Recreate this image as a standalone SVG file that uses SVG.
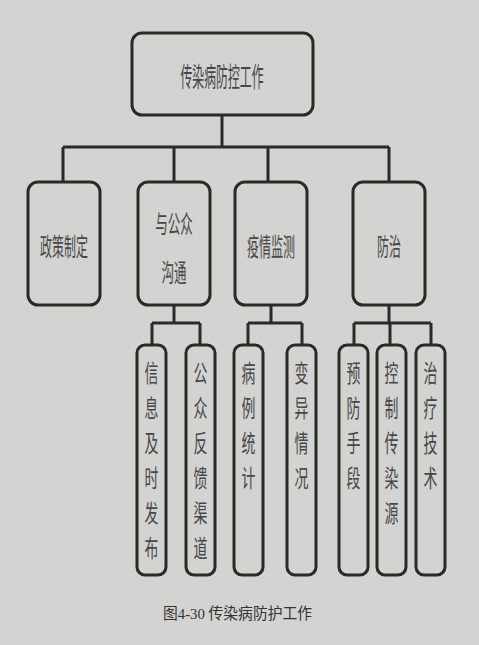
<svg xmlns="http://www.w3.org/2000/svg" width="479" height="645" viewBox="0 0 479 645">
<style>
.bx{fill:#d3d3d1;stroke:#2a2a26;stroke-width:3}
.ln{fill:none;stroke:#2a2a26;stroke-width:3}
.t{font-family:"Noto Sans CJK SC","Noto Sans",sans-serif;fill:#474747;text-anchor:middle}
.lf{font-size:24px}
.cap{font-family:"Liberation Serif","Noto Sans CJK SC",serif;fill:#333;font-size:15.5px}
</style>
<rect width="479" height="645" fill="#d3d3d1"/>
<g id="connectors">
<path class="ln" d="M222,115 V147 M63,147 H389 M63,147 V182 M174,147 V182 M268,147 V182 M389,147 V182"/>
<path class="ln" d="M174,305 V323 M152,323 H200 M152,323 V345 M200,323 V345"/>
<path class="ln" d="M271,305 V323 M248,323 H302 M248,323 V345 M302,323 V345"/>
<path class="ln" d="M389,305 V323 M354,323 H431 M354,323 V345 M431,323 V345 M390,323 V345"/>
</g>
<g id="root">
<rect class="bx" x="132" y="33" width="181" height="82" rx="10"/>
<text class="t" font-size="27" transform="matrix(0.44 0 0 1 222 0)" x="0" y="87">传染病防控工作</text>
</g>
<g id="n-policy">
<rect class="bx" x="28" y="182" width="72" height="123" rx="10"/>
<text class="t" font-size="25" transform="matrix(0.48 0 0 1 64 0)" x="0" y="256">政策制定</text>
</g>
<g id="n-comm">
<rect class="bx" x="138" y="182" width="72" height="123" rx="10"/>
<text class="t" font-size="25" transform="matrix(0.5 0 0 1 174 0)"><tspan x="0" y="233">与公众</tspan><tspan x="0" y="282">沟通</tspan></text>
</g>
<g id="n-monitor">
<rect class="bx" x="235" y="182" width="72" height="123" rx="10"/>
<text class="t" font-size="25" transform="matrix(0.48 0 0 1 271 0)" x="0" y="256">疫情监测</text>
</g>
<g id="n-prevent">
<rect class="bx" x="353" y="182" width="72" height="123" rx="10"/>
<text class="t" font-size="25" transform="matrix(0.48 0 0 1 389 0)" x="0" y="256">防治</text>
</g>
<g id="l-release">
<rect class="bx" x="137" y="345" width="29" height="230" rx="8"/>
<text class="t lf" transform="matrix(0.58 0 0 1 151.5 0)"><tspan x="0" y="382">信</tspan><tspan x="0" y="417">息</tspan><tspan x="0" y="452">及</tspan><tspan x="0" y="487">时</tspan><tspan x="0" y="522">发</tspan><tspan x="0" y="557">布</tspan></text>
</g>
<g id="l-feedback">
<rect class="bx" x="186" y="345" width="29" height="230" rx="8"/>
<text class="t lf" transform="matrix(0.58 0 0 1 200.5 0)"><tspan x="0" y="382">公</tspan><tspan x="0" y="417">众</tspan><tspan x="0" y="452">反</tspan><tspan x="0" y="487">馈</tspan><tspan x="0" y="522">渠</tspan><tspan x="0" y="557">道</tspan></text>
</g>
<g id="l-cases">
<rect class="bx" x="234" y="345" width="29" height="230" rx="8"/>
<text class="t lf" transform="matrix(0.58 0 0 1 248.5 0)"><tspan x="0" y="382">病</tspan><tspan x="0" y="417">例</tspan><tspan x="0" y="452">统</tspan><tspan x="0" y="487">计</tspan></text>
</g>
<g id="l-variant">
<rect class="bx" x="287" y="345" width="29" height="230" rx="8"/>
<text class="t lf" transform="matrix(0.58 0 0 1 301.5 0)"><tspan x="0" y="382">变</tspan><tspan x="0" y="417">异</tspan><tspan x="0" y="452">情</tspan><tspan x="0" y="487">况</tspan></text>
</g>
<g id="l-means">
<rect class="bx" x="339" y="345" width="29" height="230" rx="8"/>
<text class="t lf" transform="matrix(0.58 0 0 1 353.5 0)"><tspan x="0" y="382">预</tspan><tspan x="0" y="417">防</tspan><tspan x="0" y="452">手</tspan><tspan x="0" y="487">段</tspan></text>
</g>
<g id="l-source">
<rect class="bx" x="377" y="345" width="29" height="230" rx="8"/>
<text class="t lf" transform="matrix(0.58 0 0 1 391.5 0)"><tspan x="0" y="382">控</tspan><tspan x="0" y="417">制</tspan><tspan x="0" y="452">传</tspan><tspan x="0" y="487">染</tspan><tspan x="0" y="522">源</tspan></text>
</g>
<g id="l-treat">
<rect class="bx" x="416" y="345" width="29" height="230" rx="8"/>
<text class="t lf" transform="matrix(0.58 0 0 1 430.5 0)"><tspan x="0" y="382">治</tspan><tspan x="0" y="417">疗</tspan><tspan x="0" y="452">技</tspan><tspan x="0" y="487">术</tspan></text>
</g>
<text class="cap" x="163" y="619" textLength="149" lengthAdjust="spacingAndGlyphs">图4-30 传染病防护工作</text>
</svg>
